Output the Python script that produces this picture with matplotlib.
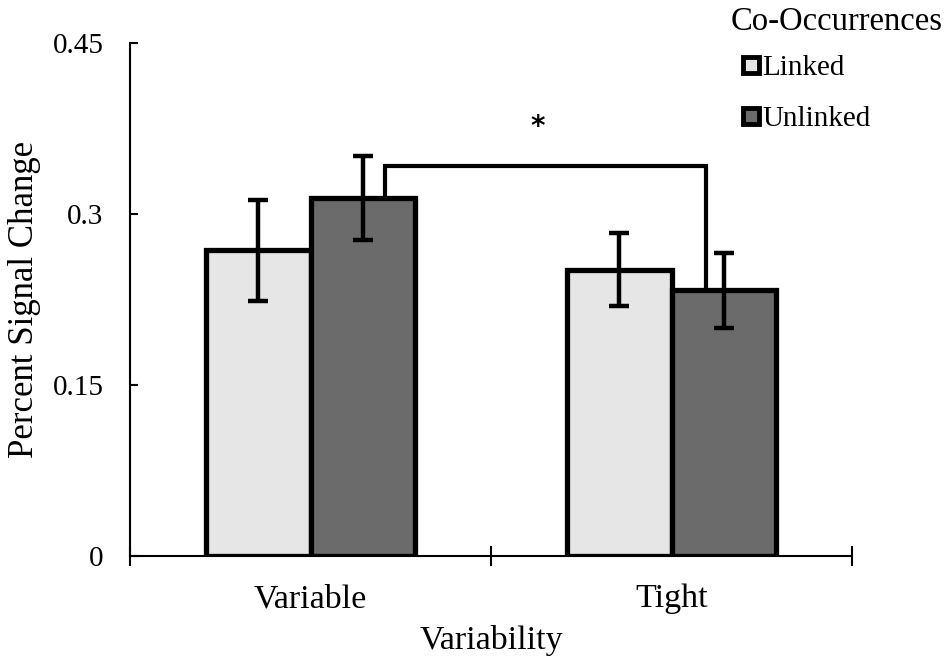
import matplotlib
matplotlib.use("Agg")
import matplotlib.pyplot as plt
from matplotlib.lines import Line2D
import numpy as np

categories = ["Variable", "Tight"]
series = ["Linked", "Unlinked"]
linked = [0.268, 0.251]
unlinked = [0.314, 0.233]
linked_err = [0.044, 0.032]
unlinked_err = [0.037, 0.033]
yticks = [0, 0.15, 0.3, 0.45]
ytick_labels = ["0", "0.15", "0.3", "0.45"]
colors = ["#e6e6e6", "#6b6b6b"]

# significance bracket (annotation)
bracket_x = [0.206, 1.096]
bracket_y = 0.342
bracket_bottoms = [0.314, 0.233]

plt.rcParams['font.family'] = ['Liberation Serif', 'DejaVu Serif']

fig = plt.figure(figsize=(9.52, 6.69), dpi=100)
ax = fig.add_axes([130/952, 1-556/669, 722/952, 513/669])

x = np.arange(len(categories))
w = 0.29
err_kw = dict(ecolor='black', elinewidth=3.2, capsize=7.5, capthick=3.2)
ax.bar(x - w/2, linked, w, yerr=linked_err, color=colors[0], edgecolor='black',
       linewidth=3.8, error_kw=err_kw, label=series[0], zorder=2)
ax.bar(x + w/2, unlinked, w, yerr=unlinked_err, color=colors[1], edgecolor='black',
       linewidth=3.8, error_kw=err_kw, label=series[1], zorder=2)

# bracket
ax.plot([bracket_x[0], bracket_x[0], bracket_x[1], bracket_x[1]],
        [bracket_bottoms[0], bracket_y, bracket_y, bracket_bottoms[1]],
        color='black', lw=3, solid_joinstyle='miter', zorder=1)
ax.text(0.63, 0.376, "*", ha='center', va='center', fontsize=20,
        family='DejaVu Sans', fontweight='bold')

ax.set_xlim(-0.5, 1.5)
ax.set_ylim(0, 0.45)
ax.set_yticks(yticks)
ax.set_yticklabels(ytick_labels, fontsize=21)
ax.tick_params(axis='y', direction='in', length=6, width=1.5, pad=19)

ax.set_xticks([-0.5, 0.5, 1.5])
ax.set_xticklabels([])
ax.tick_params(axis='x', which='major', direction='inout', length=15, width=1.5)
ax.set_xticks(x, minor=True)
ax.set_xticklabels(categories, minor=True, fontsize=24.5)
ax.tick_params(axis='x', which='minor', length=0, pad=20)

for s in ['top', 'right']:
    ax.spines[s].set_visible(False)
for s in ['left', 'bottom']:
    ax.spines[s].set_linewidth(1.5)

ax.set_ylabel("Percent Signal Change", fontsize=25, labelpad=8)
ax.set_xlabel("Variability", fontsize=24.5, labelpad=8)

handles = [Line2D([], [], linestyle='none', marker='s', markersize=11.5,
                  markerfacecolor=c, markeredgecolor='black', markeredgewidth=3.5)
           for c in colors]
leg = fig.legend(handles, series, loc='upper left', bbox_to_anchor=(731/952, 1 - 6/669),
                 frameon=False, title="Co-Occurrences", fontsize=21,
                 title_fontsize=23.5, alignment='left', handlelength=0.7,
                 handletextpad=0.05, labelspacing=0.85, borderaxespad=0.0,
                 borderpad=0.0)
leg._legend_handle_box.pad = 7
leg._legend_box.sep = 6

fig.savefig("out.png", dpi=100)
